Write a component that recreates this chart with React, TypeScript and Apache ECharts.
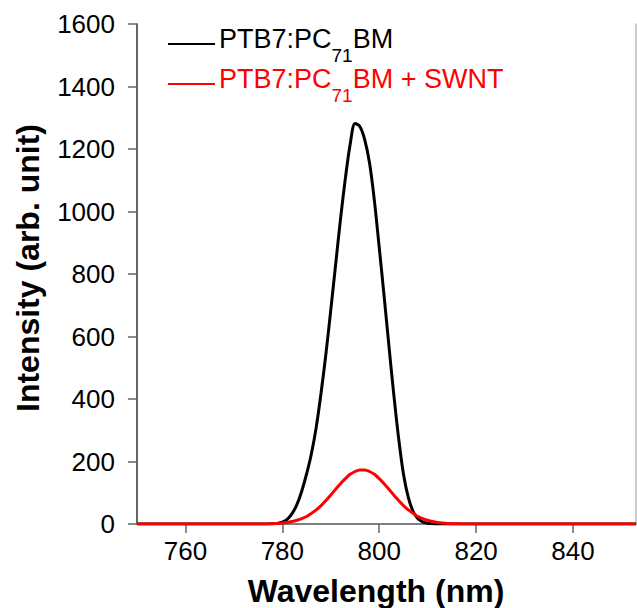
import React, { useEffect, useRef } from "react";
import * as echarts from "echarts";

// Wavelength grid (nm)
const wavelengths = [
  750, 770, 775, 776, 777, 778, 779, 780, 781, 782, 783, 784, 785, 786, 787, 788, 789, 790,
  791, 792, 793, 794, 795, 796, 797, 798, 799, 800, 801, 802, 803, 804, 805, 806, 807, 808,
  809, 810, 811, 812, 813, 814, 815, 816, 817, 835, 853,
];

// PTB7:PC71BM intensity (arb. unit)
const pristine = [
  0, 0, 0, 0, 0, 0.5, 2, 6, 15, 33, 62, 105, 160, 225, 310, 420, 545, 685,
  830, 975, 1105, 1215, 1282, 1272, 1230, 1155, 1035, 885, 730, 570, 415, 275, 160, 85, 40, 17,
  7, 2.5, 1, 0, 0, 0, 0, 0, 0, 0, 0,
];

// PTB7:PC71BM + SWNT intensity (arb. unit)
const withSwnt = [
  0, 0, 0.2, 0.3, 0.5, 1, 2, 3, 5, 8, 12, 17, 24, 34, 45, 59, 75, 93,
  111, 129, 145, 159, 168, 173, 173, 168, 159, 145, 129, 111, 93, 75, 59, 45, 34, 24,
  17, 12, 8, 5, 3, 2, 1, 0.6, 0.3, 0, 0,
];

const xTickValues = [760, 780, 800, 820, 840];
const xMin = 750;
const xMax = 853;
const yMin = 0;
const yMax = 1600;
const yInterval = 200;

const xTitle = "Wavelength (nm)";
const yTitle = "Intensity (arb. unit)";

const FONT = "'Liberation Sans', Arial, Helvetica, sans-serif";

export default function App() {
  const ref = useRef<HTMLDivElement>(null);

  useEffect(() => {
    document.body.style.margin = "0";
    if (!ref.current) return;
    const chart = echarts.init(ref.current, null, { renderer: "svg" });

    const legendRich = (color: string) => ({
      m: {
        fontSize: 27,
        lineHeight: 40,
        verticalAlign: "top",
        fill: color,
        fontFamily: FONT,
      },
      s: {
        fontSize: 19,
        lineHeight: 17,
        verticalAlign: "bottom",
        fill: color,
        fontFamily: FONT,
      },
    });

    chart.setOption({
      animation: false,
      backgroundColor: "#ffffff",
      grid: { left: 137, right: 1, top: 24, bottom: 84, containLabel: false },
      xAxis: {
        type: "value",
        min: xMin,
        max: xMax,
        axisLine: { show: true, onZero: false, lineStyle: { color: "#555", width: 1.5 } },
        axisTick: {
          show: true,
          inside: false,
          length: 9,
          customValues: xTickValues,
          lineStyle: { color: "#666", width: 1.5 },
        },
        axisLabel: {
          customValues: xTickValues,
          fontSize: 26,
          color: "#000",
          margin: 14,
          fontFamily: FONT,
          formatter: (v: number) => String(v),
        },
        splitLine: { show: false },
      },
      yAxis: [
        {
          type: "value",
          position: "left",
          min: yMin,
          max: yMax,
          interval: yInterval,
          axisLine: { show: true, lineStyle: { color: "#333", width: 1.5 } },
          axisTick: { show: true, inside: false, length: 9, lineStyle: { color: "#666", width: 1.5 } },
          axisLabel: {
            fontSize: 26,
            color: "#000",
            margin: 22,
            fontFamily: FONT,
            padding: [8, 0, 0, 0],
            formatter: (v: number) => String(v),
          },
          splitLine: { show: false },
        },
        {
          type: "value",
          position: "right",
          min: yMin,
          max: yMax,
          interval: yInterval,
          axisLine: { show: true, lineStyle: { color: "#bbb", width: 1.5 } },
          axisTick: { show: false },
          axisLabel: { show: false },
          splitLine: { show: false },
        },
      ],
      series: [
        {
          name: "PTB7:PC71BM",
          type: "line",
          smooth: 0.3,
          showSymbol: false,
          data: wavelengths.map((w, i) => [w, pristine[i]]),
          lineStyle: { color: "#000000", width: 3 },
          itemStyle: { color: "#000000" },
          z: 3,
        },
        {
          name: "PTB7:PC71BM + SWNT",
          type: "line",
          smooth: 0.3,
          showSymbol: false,
          data: wavelengths.map((w, i) => [w, withSwnt[i]]),
          lineStyle: { color: "#ff0000", width: 3 },
          itemStyle: { color: "#ff0000" },
          z: 4,
        },
      ],
      graphic: [
        {
          type: "line",
          shape: { x1: 168, y1: 44, x2: 215, y2: 44 },
          style: { stroke: "#000", lineWidth: 2 },
        },
        {
          type: "text",
          x: 219,
          y: 25,
          style: {
            text: "{m|PTB7:PC}{s|71}{m|BM}",
            rich: legendRich("#000000"),
            verticalAlign: "top",
            align: "left",
          },
        },
        {
          type: "line",
          shape: { x1: 168, y1: 84, x2: 215, y2: 84 },
          style: { stroke: "#ff0000", lineWidth: 2 },
        },
        {
          type: "text",
          x: 219,
          y: 65,
          style: {
            text: "{m|PTB7:PC}{s|71}{m|BM + SWNT}",
            rich: legendRich("#ff0000"),
            verticalAlign: "top",
            align: "left",
          },
        },
        {
          type: "text",
          x: 376,
          y: 591,
          style: {
            text: xTitle,
            fontSize: 32,
            fontWeight: "bold",
            fontFamily: FONT,
            fill: "#000",
            align: "center",
            verticalAlign: "middle",
          },
        },
        {
          type: "text",
          x: 28,
          y: 268,
          rotation: Math.PI / 2,
          style: {
            text: yTitle,
            fontSize: 32,
            fontWeight: "bold",
            fontFamily: FONT,
            fill: "#000",
            align: "center",
            verticalAlign: "middle",
          },
        },
      ],
    });

    return () => chart.dispose();
  }, []);

  return <div ref={ref} style={{ width: 637, height: 608 }} />;
}
